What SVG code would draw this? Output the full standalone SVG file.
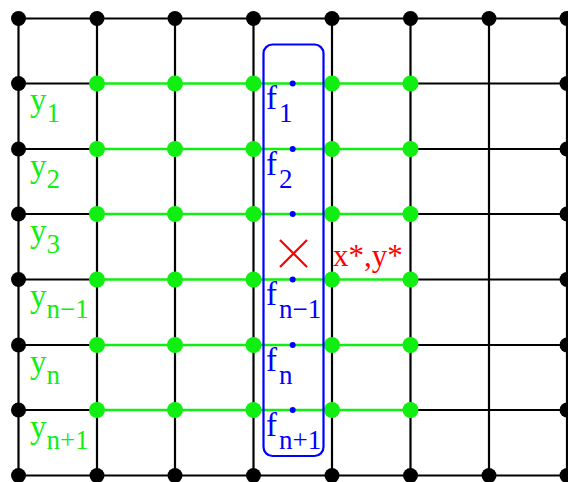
<svg xmlns="http://www.w3.org/2000/svg" width="568" height="482" viewBox="0 0 568 482">
<style>
.bl{stroke:#000;stroke-width:2.2;fill:none}
.gl{stroke:#11ee11;stroke-width:2.6;fill:none}
.bd{fill:#000}
.gd{fill:#11ee11}
.fd{fill:#0000ff}
.t{font-family:"Liberation Serif","Times New Roman",serif;font-size:33px}
.s{font-size:27px}
.g{fill:#11ee11}
.b{fill:#0000ff}
.r{fill:#ff0000}
</style>
<rect width="568" height="482" fill="#fff"/>
<g id="connectors">
<path class="bl" d="M18.5 18.5V475.5M97 18.5V475.5M175 18.5V475.5M253.5 18.5V475.5M332 18.5V475.5M410.5 18.5V475.5M489 18.5V475.5M567 18.5V475.5"/>
<path class="bl" d="M18.5 18.5H567M18.5 475.5H567"/>
<path class="bl" d="M18.5 83.5H97M410.5 83.5H567M18.5 149H97M410.5 149H567M18.5 214H97M410.5 214H567M18.5 279.5H97M410.5 279.5H567M18.5 345H97M410.5 345H567M18.5 410H97M410.5 410H567"/>
<path class="gl" d="M97 83.5H410.5M97 149H410.5M97 214H410.5M97 279.5H410.5M97 345H410.5M97 410H410.5"/>
</g>
<g id="border-nodes">
<circle class="bd" cx="18.5" cy="18.5" r="7.5"/><circle class="bd" cx="97" cy="18.5" r="7.5"/><circle class="bd" cx="175" cy="18.5" r="7.5"/><circle class="bd" cx="253.5" cy="18.5" r="7.5"/><circle class="bd" cx="332" cy="18.5" r="7.5"/><circle class="bd" cx="410.5" cy="18.5" r="7.5"/><circle class="bd" cx="489" cy="18.5" r="7.5"/><circle class="bd" cx="567" cy="18.5" r="7.5"/>
<circle class="bd" cx="18.5" cy="475.5" r="7.5"/><circle class="bd" cx="97" cy="475.5" r="7.5"/><circle class="bd" cx="175" cy="475.5" r="7.5"/><circle class="bd" cx="253.5" cy="475.5" r="7.5"/><circle class="bd" cx="332" cy="475.5" r="7.5"/><circle class="bd" cx="410.5" cy="475.5" r="7.5"/><circle class="bd" cx="489" cy="475.5" r="7.5"/><circle class="bd" cx="567" cy="475.5" r="7.5"/>
<circle class="bd" cx="18.5" cy="83.5" r="7.5"/><circle class="bd" cx="18.5" cy="149" r="7.5"/><circle class="bd" cx="18.5" cy="214" r="7.5"/><circle class="bd" cx="18.5" cy="279.5" r="7.5"/><circle class="bd" cx="18.5" cy="345" r="7.5"/><circle class="bd" cx="18.5" cy="410" r="7.5"/>
<circle class="bd" cx="567" cy="83.5" r="7.5"/><circle class="bd" cx="567" cy="149" r="7.5"/><circle class="bd" cx="567" cy="214" r="7.5"/><circle class="bd" cx="567" cy="279.5" r="7.5"/><circle class="bd" cx="567" cy="345" r="7.5"/><circle class="bd" cx="567" cy="410" r="7.5"/>
</g>
<g id="inner-nodes">
<circle class="gd" cx="97" cy="83.5" r="8"/><circle class="gd" cx="175" cy="83.5" r="8"/><circle class="gd" cx="253.5" cy="83.5" r="8"/><circle class="gd" cx="332" cy="83.5" r="8"/><circle class="gd" cx="410.5" cy="83.5" r="8"/>
<circle class="gd" cx="97" cy="149" r="8"/><circle class="gd" cx="175" cy="149" r="8"/><circle class="gd" cx="253.5" cy="149" r="8"/><circle class="gd" cx="332" cy="149" r="8"/><circle class="gd" cx="410.5" cy="149" r="8"/>
<circle class="gd" cx="97" cy="214" r="8"/><circle class="gd" cx="175" cy="214" r="8"/><circle class="gd" cx="253.5" cy="214" r="8"/><circle class="gd" cx="332" cy="214" r="8"/><circle class="gd" cx="410.5" cy="214" r="8"/>
<circle class="gd" cx="97" cy="279.5" r="8"/><circle class="gd" cx="175" cy="279.5" r="8"/><circle class="gd" cx="253.5" cy="279.5" r="8"/><circle class="gd" cx="332" cy="279.5" r="8"/><circle class="gd" cx="410.5" cy="279.5" r="8"/>
<circle class="gd" cx="97" cy="345" r="8"/><circle class="gd" cx="175" cy="345" r="8"/><circle class="gd" cx="253.5" cy="345" r="8"/><circle class="gd" cx="332" cy="345" r="8"/><circle class="gd" cx="410.5" cy="345" r="8"/>
<circle class="gd" cx="97" cy="410" r="8"/><circle class="gd" cx="175" cy="410" r="8"/><circle class="gd" cx="253.5" cy="410" r="8"/><circle class="gd" cx="332" cy="410" r="8"/><circle class="gd" cx="410.5" cy="410" r="8"/>
</g>
<g id="f-box">
<rect x="263.5" y="44.5" width="60" height="411.5" rx="9" fill="none" stroke="#0000ff" stroke-width="2.2"/>
<circle class="fd" cx="292.7" cy="83.5" r="3"/><circle class="fd" cx="292.7" cy="149" r="3"/><circle class="fd" cx="292.7" cy="214" r="3"/><circle class="fd" cx="292.7" cy="279.5" r="3"/><circle class="fd" cx="292.7" cy="345" r="3"/><circle class="fd" cx="292.7" cy="410" r="3"/>
</g>
<g id="y-labels" class="t g">
<text x="30" y="111">y<tspan class="s" dy="11">1</tspan></text>
<text x="30" y="176.5">y<tspan class="s" dy="11">2</tspan></text>
<text x="30" y="241.5">y<tspan class="s" dy="11">3</tspan></text>
<text x="30" y="307">y<tspan class="s" dy="11">n−1</tspan></text>
<text x="30" y="372.5">y<tspan class="s" dy="11">n</tspan></text>
<text x="30" y="437.5">y<tspan class="s" dy="11">n+1</tspan></text>
</g>
<g id="f-labels" class="t b">
<text x="266" y="109">f<tspan class="s" dx="2" dy="13">1</tspan></text>
<text x="266" y="174.5">f<tspan class="s" dx="2" dy="13">2</tspan></text>
<text x="266" y="305">f<tspan class="s" dx="2" dy="13">n−1</tspan></text>
<text x="266" y="370.5">f<tspan class="s" dx="2" dy="13">n</tspan></text>
<text x="266" y="435.5">f<tspan class="s" dx="2" dy="13">n+1</tspan></text>
</g>
<g id="optimum">
<path d="M280 240L307 267M307 240L280 267" stroke="#ff0000" stroke-width="2.2" fill="none"/>
<text class="t r" x="333" y="266" style="font-size:31px">x*,y*</text>
</g>
</svg>
